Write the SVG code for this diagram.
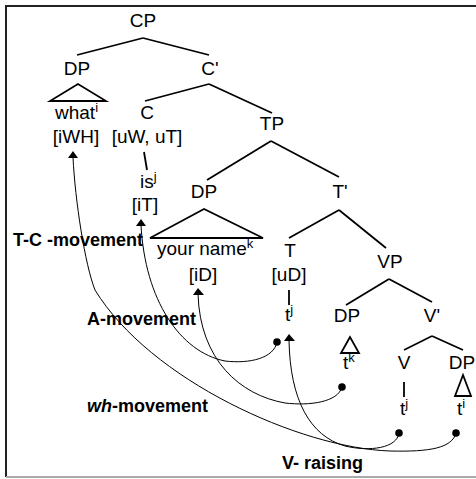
<svg xmlns="http://www.w3.org/2000/svg" width="476" height="479" viewBox="0 0 476 479">
<style>
.t{font-family:"Liberation Sans",Arial,sans-serif;font-size:19px;fill:#000;text-anchor:middle}
.s{text-anchor:start}
.sup{font-size:13px}
.lab{font-family:"Liberation Sans",Arial,sans-serif;font-size:18px;font-weight:bold;fill:#000}
.e{stroke:#000;stroke-width:1.8;fill:none}
.tri{stroke:#000;stroke-width:1.8;fill:none;stroke-linejoin:miter}
.c{stroke:#000;stroke-width:1;fill:none}
.ah{fill:#000}
</style>
<rect width="476" height="479" fill="#fff"/>
<g id="frame">
<line x1="6" y1="6" x2="476" y2="6" stroke="#222" stroke-width="2"/>
<line x1="6" y1="5" x2="6" y2="477" stroke="#222" stroke-width="2"/>
<line x1="6" y1="477" x2="476" y2="477" stroke="#aaa" stroke-width="2"/>
</g>
<g id="edges">
<line class="e" x1="143" y1="38" x2="77" y2="55"/>
<line class="e" x1="143" y1="38" x2="209" y2="55"/>
<line class="e" x1="209" y1="84" x2="145" y2="101"/>
<line class="e" x1="209" y1="84" x2="272" y2="113"/>
<line class="e" x1="144" y1="152" x2="147" y2="170"/>
<line class="e" x1="271" y1="141" x2="207" y2="180"/>
<line class="e" x1="271" y1="141" x2="339" y2="177"/>
<line class="e" x1="339" y1="210" x2="289" y2="238"/>
<line class="e" x1="339" y1="210" x2="386" y2="248"/>
<line class="e" x1="289" y1="290" x2="289" y2="305"/>
<line class="e" x1="389" y1="279" x2="346" y2="305"/>
<line class="e" x1="389" y1="279" x2="432" y2="302"/>
<line class="e" x1="432" y1="336" x2="404" y2="350"/>
<line class="e" x1="432" y1="336" x2="463" y2="350"/>
<line class="e" x1="404" y1="382" x2="404" y2="397"/>
<polygon class="tri" points="78,84 50,101 106,101"/>
<polygon class="tri" points="204,209 150,238 263,238"/>
<polygon class="tri" points="350,337 341,353 359,353"/>
<polygon class="tri" points="463,375 455,396 471,396"/>
</g>
<g id="nodes">
<g id="n-cp"><text class="t" x="143" y="27">CP</text></g>
<g id="n-dp1"><text class="t" x="77" y="75">DP</text></g>
<g id="n-cbar"><text class="t" x="210" y="75">C'</text></g>
<g id="n-what"><text class="t s" x="55" y="119">what<tspan class="sup" dy="-7">i</tspan></text><text class="t" x="76" y="143">[iWH]</text></g>
<g id="n-c"><text class="t" x="147" y="119">C</text><text class="t" x="147" y="143">[uW, uT]</text></g>
<g id="n-is"><text class="t s" x="140" y="188">is<tspan class="sup" dy="-7">j</tspan></text><text class="t" x="145" y="211">[iT]</text></g>
<g id="n-tp"><text class="t" x="272" y="130">TP</text></g>
<g id="n-dp2"><text class="t" x="204" y="198">DP</text></g>
<g id="n-tbar"><text class="t" x="340" y="198">T'</text></g>
<g id="n-yourname"><text class="t s" x="157" y="255">your name<tspan class="sup" dy="-7">k</tspan></text><text class="t" x="203" y="281">[iD]</text></g>
<g id="n-t"><text class="t" x="290" y="257">T</text><text class="t" x="289" y="281">[uD]</text><text class="t s" x="285" y="321">t<tspan class="sup" dy="-7">j</tspan></text></g>
<g id="n-vp"><text class="t" x="390" y="268">VP</text></g>
<g id="n-dp3"><text class="t" x="347" y="322">DP</text><text class="t s" x="343" y="369">t<tspan class="sup" dy="-7">k</tspan></text></g>
<g id="n-vbar"><text class="t" x="432" y="322">V'</text></g>
<g id="n-v"><text class="t" x="404" y="369">V</text><text class="t s" x="400" y="415">t<tspan class="sup" dy="-7">j</tspan></text></g>
<g id="n-dp4"><text class="t" x="462" y="369">DP</text><text class="t s" x="457" y="415">t<tspan class="sup" dy="-7">i</tspan></text></g>
</g>
<g id="labels">
<text class="lab" x="13" y="246">T-C -movement</text>
<text class="lab" x="87" y="325">A-movement</text>
<text class="lab" x="87" y="412"><tspan font-style="italic">wh</tspan>-movement</text>
<text class="lab" x="282" y="469">V- raising</text>
</g>
<g id="connectors">
<path class="c" d="M456,433 C452,448 430,452 390,451 C300,448 150,380 95,290 C85,265 75,200 73,157"/>
<path class="c" d="M399,433 C397,448 370,452 345,446 C310,436 290,400 289,340"/>
<path class="c" d="M342,387 C338,402 310,406 285,403 C240,395 200,360 198,294"/>
<path class="c" d="M277,342 C274,358 250,364 225,361 C180,352 145,300 141,225"/>
<polygon class="ah" points="73,151 68,158 78,158"/>
<polygon class="ah" points="141,219 136,226 146,226"/>
<polygon class="ah" points="198,288 193,295 204,295"/>
<polygon class="ah" points="289,334 284,341 295,341"/>
<circle cx="277" cy="342" r="3.8"/>
<circle cx="342" cy="387" r="3.8"/>
<circle cx="399" cy="433" r="3.8"/>
<circle cx="456" cy="433" r="3.8"/>
</g>
</svg>
